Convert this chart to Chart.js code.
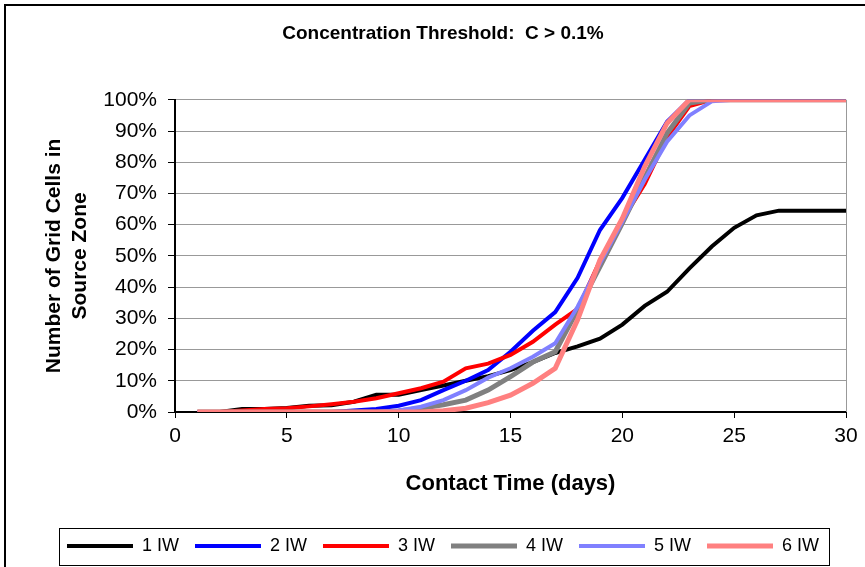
<!DOCTYPE html>
<html lang="en">
<head>
    <meta charset="UTF-8">
    <title>Concentration Threshold: C > 0.1%</title>
    <script src="https://cdn.jsdelivr.net/npm/chart.js"></script>
    <style>
        body { margin: 0; background: #fff; }
        #chart-box { width: 865px; height: 567px; }
    </style>
</head>
<body>
    <div id="chart-box">
        <canvas id="chart" width="865" height="567"></canvas>
    </div>

    <script>
        // contact time (days)
        const days = [1, 2, 3, 4, 5, 6, 7, 8, 9, 10, 11, 12, 13, 14, 15, 16, 17, 18, 19, 20, 21, 22, 23, 24, 25, 26, 27, 28, 29, 30];

        // % of grid cells in source zone, one array per injection well count
        const iw1 = [0, 0, 1, 1, 1.3, 2, 2.2, 3.3, 5.5, 5.5, 7, 8.5, 10, 11.5, 13.4, 16, 18.9, 21, 23.5, 28, 34, 38.5, 46, 53, 59, 63, 64.5, 64.5, 64.5, 64.5];
        const iw2 = [0, 0, 0, 0, 0, 0, 0, 0.5, 1, 2, 3.8, 7, 10, 13.4, 19.3, 26, 32, 43, 58.3, 68.6, 80.8, 93, 100, 100, 100, 100, 100, 100, 100, 100];
        const iw3 = [0, 0, 0.5, 1, 1.2, 1.8, 2.5, 3.3, 4.4, 6, 7.6, 9.7, 14, 15.5, 18.3, 22.5, 28, 33, 48.5, 61.5, 73, 88, 98, 100, 100, 100, 100, 100, 100, 100];
        const iw4 = [0, 0, 0, 0, 0, 0, 0, 0, 0, 0.3, 1.2, 2.3, 3.8, 7, 11.3, 16, 19.3, 32.7, 46.6, 60.5, 75, 89.3, 99, 100, 100, 100, 100, 100, 100, 100];
        const iw5 = [0, 0, 0, 0, 0, 0, 0, 0, 0, 0.5, 1.7, 3.8, 7, 11, 14, 17.7, 22, 33.7, 47.6, 61, 74.4, 86.6, 95, 99.5, 100, 100, 100, 100, 100, 100];
        const iw6 = [0, 0, 0, 0, 0, 0, 0, 0, 0, 0, 0, 0.4, 1.2, 3, 5.4, 9.2, 14, 29.5, 48.7, 62, 78.6, 92.5, 100, 100, 100, 100, 100, 100, 100, 100];

        const yTicks = [0, 10, 20, 30, 40, 50, 60, 70, 80, 90, 100];
        const xTicks = [0, 5, 10, 15, 20, 25, 30];

        const FONT = "Arial, 'Liberation Sans', sans-serif";
        Chart.defaults.color = '#000';
        Chart.defaults.font.family = FONT;

        function series(label, values, color, width) {
            return {
                label: label,
                data: days.map((d, i) => ({ x: d, y: values[i] })),
                borderColor: color,
                backgroundColor: color,
                borderWidth: width,
                pointRadius: 0,
                tension: 0
            };
        }

        // last listed is drawn first, so 6 IW ends up on top like the original
        const datasets = [
            series('6 IW', iw6, '#ff8080', 5),
            series('5 IW', iw5, '#8080ff', 4),
            series('4 IW', iw4, '#808080', 5),
            series('3 IW', iw3, '#ff0000', 4),
            series('2 IW', iw2, '#0000ff', 4),
            series('1 IW', iw1, '#000000', 4)
        ];

        // white page, outer frame, plot right edge and legend frame
        const frame = {
            id: 'frame',
            beforeDraw(chart) {
                const ctx = chart.ctx;
                ctx.save();
                ctx.fillStyle = '#fff';
                ctx.fillRect(0, 0, chart.width, chart.height);
                ctx.strokeStyle = '#000';
                ctx.lineWidth = 2;
                ctx.strokeRect(5, 5, chart.width + 10, chart.height + 10);
                ctx.restore();
            },
            beforeDatasetsDraw(chart) {
                const a = chart.chartArea;
                const ctx = chart.ctx;
                ctx.save();
                ctx.strokeStyle = '#999';
                ctx.lineWidth = 1;
                ctx.beginPath();
                ctx.moveTo(a.right + 0.5, a.top);
                ctx.lineTo(a.right + 0.5, a.bottom);
                ctx.stroke();
                ctx.restore();
            },
            afterDraw(chart) {
                const boxes = chart.legend.legendHitBoxes;
                if (!boxes || !boxes.length) return;
                const left = Math.min(...boxes.map(b => b.left)) - 8;
                const right = Math.max(...boxes.map(b => b.left + b.width)) + 10;
                const mid = boxes[0].top + boxes[0].height / 2;
                const ctx = chart.ctx;
                ctx.save();
                ctx.strokeStyle = '#000';
                ctx.lineWidth = 1;
                ctx.strokeRect(Math.round(left) + 0.5, Math.round(mid - 18) + 0.5, Math.round(right - left), 37);
                ctx.restore();
            }
        };

        new Chart(document.getElementById('chart'), {
            type: 'line',
            data: { datasets: datasets },
            plugins: [frame],
            options: {
                responsive: false,
                animation: false,
                devicePixelRatio: 1,
                layout: { padding: { left: 40, right: 19, top: 0, bottom: 2 } },
                scales: {
                    x: {
                        type: 'linear',
                        min: 0,
                        max: 30,
                        afterBuildTicks: s => { s.ticks = xTicks.map(v => ({ value: v })); },
                        afterFit: s => { s.height = 109; },
                        grid: { drawOnChartArea: false, tickLength: 6, color: '#000' },
                        border: { color: '#000', width: 2 },
                        ticks: { font: { size: 21 }, padding: 6, maxRotation: 0 },
                        title: {
                            display: true,
                            text: 'Contact Time (days)',
                            font: { size: 22, weight: 'bold' },
                            padding: { top: 0, bottom: 24 }
                        }
                    },
                    y: {
                        min: 0,
                        max: 100,
                        afterBuildTicks: s => { s.ticks = yTicks.map(v => ({ value: v })); },
                        afterFit: s => { s.width = 135; },
                        grid: { color: '#999', tickColor: '#000', tickLength: 7 },
                        border: { color: '#000', width: 2 },
                        ticks: { font: { size: 21 }, padding: 11, callback: v => v + '%' },
                        title: {
                            display: true,
                            text: ['Number of Grid Cells in', 'Source Zone'],
                            font: { size: 21, weight: 'bold', lineHeight: 1.2 },
                            padding: { top: 2, bottom: 0 }
                        }
                    }
                },
                plugins: {
                    title: {
                        display: true,
                        text: 'Concentration Threshold:  C > 0.1%',
                        font: { size: 19, weight: 'bold' },
                        color: '#000',
                        padding: { top: 22, bottom: 55 }
                    },
                    legend: {
                        position: 'bottom',
                        reverse: true,
                        labels: {
                            usePointStyle: true,
                            pointStyle: 'line',
                            pointStyleWidth: 66,
                            padding: 16,
                            font: { size: 18 },
                            color: '#000'
                        }
                    },
                    tooltip: { enabled: false }
                }
            }
        });
    </script>
</body>
</html>
